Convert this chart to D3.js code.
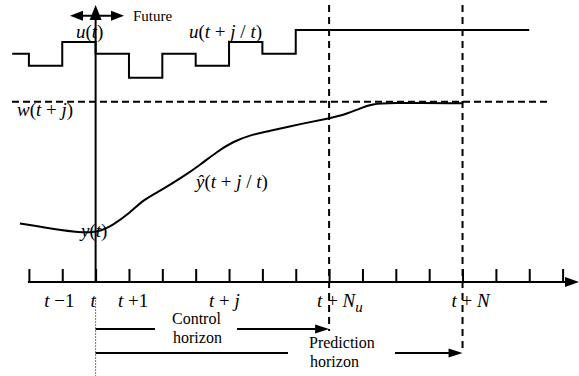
<!DOCTYPE html>
<html>
<head>
<meta charset="utf-8">
<script src="https://cdn.jsdelivr.net/npm/d3@7"></script>
<style>
  svg text, svg tspan { font-family: "Liberation Serif", "Times New Roman", Times, serif !important; }
</style>
</head>
<body style="margin:0; background:#fff">
<script>
var width = 579;
var height = 376;

// time steps relative to t
var tickSteps = d3.range(-2, 15);
var controlHorizon = 7;   // t + Nu
var predictionHorizon = 11; // t + N

// control signal u (step after each k)
var uSteps = [-2.5, -2, -1, 0, 1, 2, 3, 4, 5, 6, 13];
var uValues = [2, 1, 3, 2, 0, 2, 1, 3, 2, 4, 4];

// reference w and output y
var wLevel = 1;
var ySteps = [-2.27, -1.07, 0, 0.52, 1.03, 1.42, 1.93, 2.62, 3.13, 3.64, 4.12, 4.63, 5.14, 6.22, 7.02, 7.53, 7.92, 8.31, 8.73, 11];
var yValues = [0.325, 0.288, 0.265, 0.316, 0.383, 0.455, 0.505, 0.584, 0.649, 0.723, 0.778, 0.815, 0.834, 0.880, 0.908, 0.932, 0.963, 0.987, 0.994, 0.991];

var tickLabelSteps = [-1, 0, 1, 4, 7, 11];
var tickLabels = ["t −1", "t", "t +1", "t + j", "t + N_u", "t + N"];

var svg = d3.select("body")
    .append("svg")
    .attr("width", width)
    .attr("height", height)
    .attr("font-family", "Liberation Serif");

var xScale = d3.scaleLinear()
  .domain([-2, 14])
  .range([28.9, 562.6]);

var yScale = d3.scaleLinear()
  .domain([0, 1])
  .range([282, 101.7]);

var uScale = d3.scaleLinear()
  .domain([0, 4])
  .range([77.7, 30]);

var axisY = yScale(0);

function addText(x, y, size) {
  return svg.append("text").attr("x", x).attr("y", y)
    .attr("font-size", size)
    .attr("font-family", "Liberation Serif")
    .attr("style", "font-family: 'Liberation Serif' !important");
}

// italic letters, upright symbols
function mathText(sel, str) {
  var parts = str.match(/_[A-Za-z]|[A-Za-zŷ]+|[^A-Za-zŷ_]+/g);
  parts.forEach(function(p) {
    if (p[0] === "_") {
      sel.append("tspan").attr("font-style", "italic")
        .attr("font-size", 15).attr("dy", 5).text(p.slice(1));
    } else {
      sel.append("tspan")
        .attr("font-style", /[A-Za-zŷ]/.test(p) ? "italic" : "normal")
        .text(p);
    }
  });
}

function arrowHead(x, y, dir, len, half) {
  var p;
  if (dir === "right") p = [[x, y], [x - len, y - half], [x - len, y + half]];
  if (dir === "left") p = [[x, y], [x + len, y - half], [x + len, y + half]];
  if (dir === "up") p = [[x, y], [x - half, y + len], [x + half, y + len]];
  svg.append("path").attr("d", "M" + p.join("L") + "Z").attr("fill", "#000");
}

// dashed reference line w
svg.append("line")
  .attr("x1", 12).attr("x2", 550)
  .attr("y1", yScale(wLevel)).attr("y2", yScale(wLevel))
  .attr("stroke", "#000").attr("stroke-width", 2)
  .attr("stroke-dasharray", "7,4");

// horizon dashed verticals
[controlHorizon, predictionHorizon].forEach(function(k, i) {
  svg.append("line")
    .attr("x1", xScale(k)).attr("x2", xScale(k))
    .attr("y1", 5).attr("y2", i === 0 ? 331 : 353)
    .attr("stroke", "#000").attr("stroke-width", 2)
    .attr("stroke-dasharray", "7,5");
});

// x axis
svg.append("g")
  .attr("transform", "translate(0," + axisY + ")")
  .call(d3.axisBottom(xScale).tickValues(tickSteps).tickSizeInner(-13).tickSizeOuter(0).tickFormat(""))
  .call(function(g) {
    g.select(".domain").remove();
    g.selectAll(".tick line").attr("stroke", "#000").attr("stroke-width", 2);
  });
svg.append("line")
  .attr("x1", xScale(-2) - 1).attr("x2", 568)
  .attr("y1", axisY).attr("y2", axisY)
  .attr("stroke", "#000").attr("stroke-width", 2);
arrowHead(579, axisY, "right", 14, 5);

// vertical axis at t
svg.append("line")
  .attr("x1", xScale(0)).attr("x2", xScale(0))
  .attr("y1", axisY).attr("y2", 16)
  .attr("stroke", "#000").attr("stroke-width", 2);
arrowHead(xScale(0), 5, "up", 15, 6);

// thin dotted line under t
svg.append("line")
  .attr("x1", xScale(0)).attr("x2", xScale(0))
  .attr("y1", 297).attr("y2", 376)
  .attr("stroke", "#555").attr("stroke-width", 0.8)
  .attr("stroke-dasharray", "2,1");

// Future double arrow
svg.append("line")
  .attr("x1", 76).attr("x2", 118)
  .attr("y1", 15.7).attr("y2", 15.7)
  .attr("stroke", "#000").attr("stroke-width", 2);
arrowHead(70, 15.7, "left", 13, 5);
arrowHead(124, 15.7, "right", 13, 5);
addText(133, 21, 15).text("Future");

// control signal
var uData = uSteps.map(function(k, i) { return {k: k, v: uValues[i]}; });
svg.append("path")
  .datum(uData)
  .attr("fill", "none").attr("stroke", "#000").attr("stroke-width", 2)
  .attr("d", d3.line()
    .x(function(d) { return xScale(d.k); })
    .y(function(d) { return uScale(d.v); })
    .curve(d3.curveStepAfter));

// output curve
var yData = ySteps.map(function(k, i) { return {k: k, v: yValues[i]}; });
svg.append("path")
  .datum(yData)
  .attr("fill", "none").attr("stroke", "#000").attr("stroke-width", 2)
  .attr("d", d3.line()
    .x(function(d) { return xScale(d.k); })
    .y(function(d) { return yScale(d.v); })
    .curve(d3.curveBasis));
svg.append("line")
  .attr("x1", xScale(predictionHorizon)).attr("x2", xScale(predictionHorizon))
  .attr("y1", yScale(yValues[yValues.length - 1])).attr("y2", yScale(wLevel))
  .attr("stroke", "#000").attr("stroke-width", 2);

// math labels
var labels = [
  {s: "u(t)", x: 76, y: 38},
  {s: "u(t + j / t)", x: 189, y: 38},
  {s: "w(t + j)", x: 17, y: 116},
  {s: "ŷ(t + j / t)", x: 196, y: 188},
  {s: "y(t)", x: 81, y: 237}
];
labels.forEach(function(l) {
  mathText(addText(l.x, l.y, 19), l.s);
});

// tick labels
var tickLabelDx = [-18, -5, -11, -20, -12, -11];
tickLabels.forEach(function(s, i) {
  mathText(addText(xScale(tickLabelSteps[i]) + tickLabelDx[i], 307, 19), s);
});

// horizon arrows
function horizon(k, y, gapStart, gapEnd, line1, line2, textX) {
  svg.append("line").attr("x1", xScale(0)).attr("x2", gapStart)
    .attr("y1", y).attr("y2", y).attr("stroke", "#000").attr("stroke-width", 2);
  svg.append("line").attr("x1", gapEnd).attr("x2", xScale(k) - 10)
    .attr("y1", y).attr("y2", y).attr("stroke", "#000").attr("stroke-width", 2);
  arrowHead(xScale(k), y, "right", 14, 4.5);
  addText(textX, y - 5, 16).text(line1);
  addText(textX + 1, y + 14, 16).text(line2);
}
horizon(controlHorizon, 329, 155, 237, "Control", "horizon", 172);
horizon(predictionHorizon, 353, 288, 395, "Prediction", "horizon", 309);
</script>
</body>
</html>
